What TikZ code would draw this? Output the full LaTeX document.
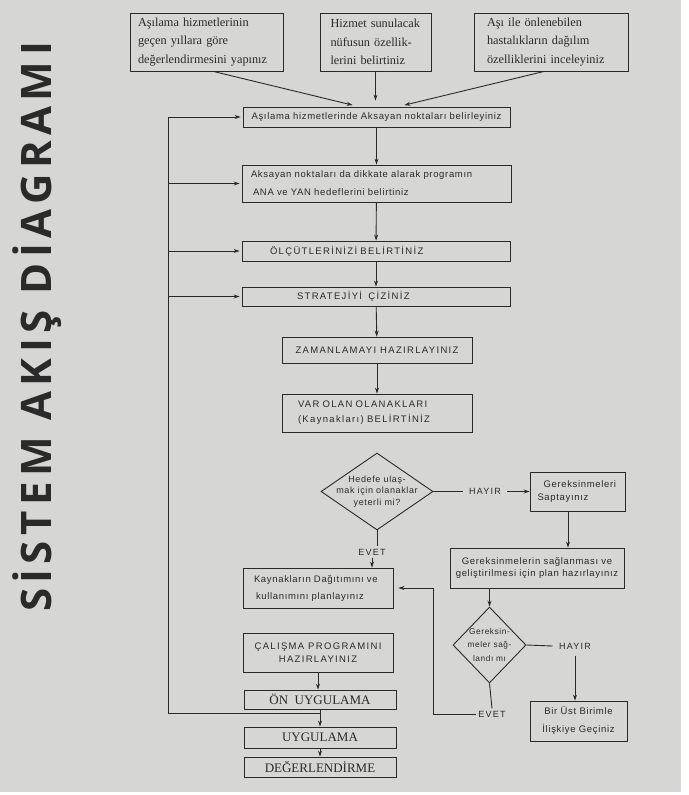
\documentclass[tikz,border=0pt]{standalone}
\usepackage{fontspec}
\setmainfont{Liberation Serif}
\newfontfamily\kutufont[LetterSpace=7]{Liberation Sans}
\newfontfamily\buyukfont[LetterSpace=14]{Liberation Sans}
\newfontfamily\baslikfont[LetterSpace=13]{Open Sans}
\usetikzlibrary{arrows.meta,shapes.geometric}
\definecolor{kagit}{HTML}{D6D6D4}
\definecolor{murekkep}{HTML}{2A2A2A}

\begin{document}
\begin{tikzpicture}[x=1pt,y=-1pt,color=murekkep,line width=0.9pt,
        >={Stealth[length=6pt,width=4pt]},
        kutu/.style={draw,inner sep=0pt,align=center,font=\kutufont\fontsize{9.5}{13}\selectfont},
        buyuk/.style={kutu,font=\buyukfont\fontsize{9.5}{13}\selectfont},
        serifkutu/.style={draw,inner sep=0pt,align=left,font=\fontsize{12.3}{18.5}\selectfont},
        altkutu/.style={draw,inner sep=0pt,minimum width=152pt,font=\fontsize{13}{15}\selectfont},
        karar/.style={draw,diamond,inner sep=0pt},
        kararyazi/.style={inner sep=0pt,align=center,font=\kutufont\fontsize{9}{11.7}\selectfont},
        etiket/.style={inner sep=6pt,font=\buyukfont\fontsize{9}{11}\selectfont}]

        \fill[white] (0,0) rectangle (688,795);
        \fill[kagit] (0,0) rectangle (681,792);
        \useasboundingbox (0,0) rectangle (688,795);

        \node[rotate=90,font=\baslikfont\bfseries\fontsize{42}{42}\selectfont] (baslik) at (37,327) {SİSTEM AKIŞ DİAGRAMI};

        \node[serifkutu,minimum width=153pt,minimum height=58pt,text width=137pt] (gecmisYillar) at (206.5,42) {
            Aşılama hizmetlerinin\\
            geçen yıllara göre\\
            değerlendirmesini yapınız
        };
        \node[serifkutu,minimum width=111pt,minimum height=58pt,text width=90pt] (nufusOzellik) at (375.5,42) {
            Hizmet sunulacak\\
            nüfusun özellik-\\
            lerini belirtiniz
        };
        \node[serifkutu,minimum width=154pt,minimum height=58pt,text width=128pt] (hastalikDagilim) at (551,42) {
            Aşı ile önlenebilen\\
            hastalıkların dağılım\\
            özelliklerini inceleyiniz
        };

        \node[kutu,minimum width=267pt,minimum height=20pt] (aksayanNokta) at (376.5,117) {Aşılama hizmetlerinde Aksayan noktaları belirleyiniz};
        \node[kutu,minimum width=269pt,minimum height=37pt,text width=251pt,align=left,font=\kutufont\fontsize{9.5}{18}\selectfont] (hedefler) at (376.5,183.5) {
            Aksayan noktaları da dikkate alarak programın\\
            \hspace*{2pt}ANA ve YAN hedeflerini belirtiniz
        };
        \node[buyuk,minimum width=268pt,minimum height=20pt,text width=212pt,align=left] (olcutler) at (376,251) {ÖLÇÜTLERİNİZİ BELİRTİNİZ};
        \node[buyuk,minimum width=268pt,minimum height=19pt,text width=158pt,align=left] (strateji) at (376,296.5) {STRATEJİYİ\ \ ÇİZİNİZ};
        \node[buyuk,minimum width=190pt,minimum height=26pt] (zamanlama) at (377,350) {ZAMANLAMAYI HAZIRLAYINIZ};
        \node[buyuk,minimum width=190pt,minimum height=38pt,text width=158pt,align=left,font=\buyukfont\fontsize{9.5}{15}\selectfont] (olanaklar) at (377,413) {
            VAR OLAN OLANAKLARI\\
            (Kaynakları) BELİRTİNİZ
        };

        \node[karar,minimum width=112pt,minimum height=77pt,
            label={[kararyazi]center:{Hedefe ulaş-\\mak için olanaklar\\yeterli mi?}}] (kararOlanak) at (377,491.5) {};
        \node[etiket] (hayir1) at (485,491.5) {HAYIR};
        \node[kutu,minimum width=95pt,minimum height=39pt,text width=80pt,align=left] (saptama) at (577.5,491.5) {
            \hspace*{6pt}Gereksinmeleri\\
            Saptayınız
        };
        \node[etiket,inner sep=2pt] (evet1) at (372,552) {EVET};

        \node[kutu,minimum width=150pt,minimum height=40pt,text width=128pt,align=left,font=\kutufont\fontsize{9.5}{17}\selectfont] (dagitim) at (318,588) {
            Kaynakların Dağıtımını ve\\
            \hspace*{2pt}kullanımını planlayınız
        };
        \node[kutu,minimum width=174pt,minimum height=40pt,font=\kutufont\fontsize{9.5}{12.5}\selectfont] (planHazirla) at (537,568) {
            Gereksinmelerin sağlanması ve\\
            geliştirilmesi için plan hazırlayınız
        };
        \node[karar,minimum width=73pt,minimum height=76pt,
            label={[kararyazi,font=\kutufont\fontsize{8.3}{13.5}\selectfont]center:{Gereksin-\\meler sağ-\\landı mı}}] (kararGerek) at (489.5,645) {};
        \node[etiket] (hayir2) at (575,646) {HAYIR};
        \node[kutu,minimum width=97pt,minimum height=40pt,font=\kutufont\fontsize{9.5}{18}\selectfont] (ustBirim) at (578.5,721) {
            Bir Üst Birimle\\
            İlişkiye Geçiniz
        };
        \node[etiket,inner sep=2pt] (evet2) at (492,714) {EVET};

        \node[buyuk,minimum width=150pt,minimum height=39pt,font=\buyukfont\fontsize{9.5}{12.5}\selectfont] (calismaProg) at (318,652.5) {
            ÇALIŞMA PROGRAMINI\\
            HAZIRLAYINIZ
        };
        \node[altkutu,minimum height=19pt] (onUygulama) at (320,699.5) {ÖN\enspace UYGULAMA};
        \node[altkutu,minimum height=21pt] (uygulama) at (320,737.5) {UYGULAMA};
        \node[altkutu,minimum height=20pt] (degerlendirme) at (320,767) {DEĞERLENDİRME};

        \coordinate (solAlt) at (168,713);
        \coordinate (donus) at (433,588);

        \draw[->,shorten >=6pt] ([xshift=7pt]gecmisYillar.south) -- ([xshift=-18pt]aksayanNokta.north);
        \draw[->,shorten >=6pt] (nufusOzellik.south) -- (nufusOzellik.south |- aksayanNokta.north);
        \draw[->,shorten >=6pt] ([xshift=-7pt]hastalikDagilim.south) -- ([xshift=22pt]aksayanNokta.north);

        \draw[->] (aksayanNokta) -- (hedefler);
        \draw[->] (hedefler) -- (olcutler);
        \draw[->] (olcutler) -- (strateji);
        \draw[->] (strateji) -- (zamanlama);
        \draw[->] (zamanlama) -- (olanaklar);

        \draw (kararOlanak.east) -- (hayir1.west);
        \draw[->] (hayir1.east) -- (saptama.west);
        \draw[->] ([xshift=-9.5pt]saptama.south) -- ([xshift=-9.5pt]saptama.south |- planHazirla.north);
        \draw (kararOlanak.south) -- (kararOlanak.south |- evet1.north);
        \draw[->] (evet1.south) -- (evet1.south |- dagitim.north);

        \draw[->] (kararGerek.north |- planHazirla.south) -- (kararGerek.north);
        \draw (kararGerek.east) -- (hayir2.west);
        \draw[->] (hayir2.south) -- (hayir2.south |- ustBirim.north);
        \draw (kararGerek.south) -- (evet2.north);
        \draw[->,shorten >=5pt] (evet2.west) -| (donus) -- (dagitim.east);

        \draw[->] (calismaProg.south) -- (calismaProg.south |- onUygulama.north);
        \draw[->] (onUygulama) -- (uygulama);
        \draw[->] (uygulama) -- (degerlendirme);

        \draw (uygulama.north |- solAlt) -- (solAlt) -- (solAlt |- aksayanNokta.west) -- ++(5,0);
        \foreach \hedef in {aksayanNokta,hedefler,olcutler,strateji}
            \draw[->,shorten >=2pt] (solAlt |- \hedef.west) -- (\hedef.west);
    \end{tikzpicture}
\end{document}
